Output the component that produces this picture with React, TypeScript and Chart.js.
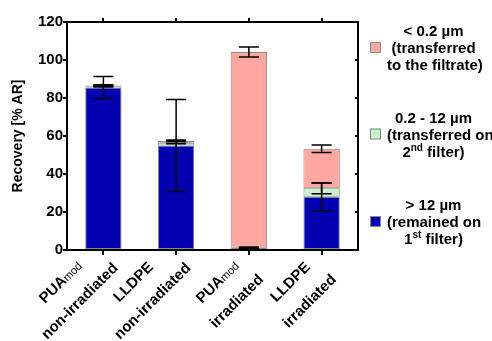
import React, { useEffect, useRef } from 'react';
import { Chart, registerables } from 'chart.js';

Chart.register(...registerables);

// ---- data ----
const categoryLines: string[][] = [
  ['PUA_{mod}', 'non-irradiated'],
  ['LLDPE', 'non-irradiated'],
  ['PUA_{mod}', 'irradiated'],
  ['LLDPE', 'irradiated'],
];
const seriesLabels: string[][] = [
  ['> 12 µm', '(remained on', '1^{st} filter)'],
  ['0.2 - 12 µm', '(transferred on', '2^{nd} filter)'],
  ['< 0.2 µm', '(transferred', 'to the filtrate)'],
];
const above12 = [85.5, 55.0, 1.0, 28.0];
const between = [0.7, 1.5, 0.2, 4.5];
const below02 = [0.4, 1.0, 103.0, 20.8];
const above12Err = [5.8, 24.2, 0.4, 7.3];
const betweenErr = [0.4, 0.6, 0.2, 2.9];
const below02Err = [0.4, 0.4, 2.6, 2.0];
const yTicks = [0, 20, 40, 60, 80, 100, 120];
const yTitle = 'Recovery [% AR]';

const colors = ['#0202B0', '#C8F2C8', '#FFA8A2'];
const FONT = "'Liberation Sans', Arial, Helvetica, sans-serif";

type Seg = { t: string; k: 'n' | 'sup' | 'sub' };
function parseRich(s: string): Seg[] {
  const out: Seg[] = [];
  const re = /(\^|_)\{([^}]*)\}/g;
  let last = 0;
  let m: RegExpExecArray | null;
  while ((m = re.exec(s))) {
    if (m.index > last) out.push({ t: s.slice(last, m.index), k: 'n' });
    out.push({ t: m[2], k: m[1] === '^' ? 'sup' : 'sub' });
    last = re.lastIndex;
  }
  if (last < s.length) out.push({ t: s.slice(last), k: 'n' });
  return out;
}

type RichFonts = { n: string; sup: string; sub: string; supDy: number; subDy: number };

function richWidth(ctx: CanvasRenderingContext2D, s: string, f: RichFonts) {
  let w = 0;
  for (const seg of parseRich(s)) {
    ctx.font = seg.k === 'n' ? f.n : seg.k === 'sup' ? f.sup : f.sub;
    w += ctx.measureText(seg.t).width;
  }
  return w;
}

function drawRich(ctx: CanvasRenderingContext2D, s: string, cx: number, baseY: number, f: RichFonts, minLeft = -Infinity) {
  const w = richWidth(ctx, s, f);
  let x = Math.max(cx - w / 2, minLeft);
  ctx.textAlign = 'left';
  ctx.textBaseline = 'alphabetic';
  for (const seg of parseRich(s)) {
    ctx.font = seg.k === 'n' ? f.n : seg.k === 'sup' ? f.sup : f.sub;
    const dy = seg.k === 'sup' ? f.supDy : seg.k === 'sub' ? f.subDy : 0;
    ctx.fillText(seg.t, x, baseY + dy);
    x += ctx.measureText(seg.t).width;
  }
}

const errors = [above12Err, betweenErr, below02Err];

const decorPlugin = {
  id: 'decor',
  afterDatasetsDraw(chart: any) {
    const ctx: CanvasRenderingContext2D = chart.ctx;
    const xs = chart.scales.x;
    const ys = chart.scales.y;
    ctx.save();
    // error bars
    ctx.strokeStyle = '#000';
    ctx.lineWidth = 1.5;
    const cap = 10;
    chart.data.datasets.forEach((ds: any, i: number) => {
      ds.data.forEach((_: number, j: number) => {
        let cum = 0;
        for (let k = 0; k <= i; k++) cum += chart.data.datasets[k].data[j];
        const e = errors[i][j];
        const x = xs.getPixelForValue(j);
        const yTop = ys.getPixelForValue(cum + e);
        const yBot = ys.getPixelForValue(cum - e);
        ctx.beginPath();
        ctx.moveTo(x, yTop);
        ctx.lineTo(x, yBot);
        ctx.moveTo(x - cap, yTop);
        ctx.lineTo(x + cap, yTop);
        ctx.moveTo(x - cap, yBot);
        ctx.lineTo(x + cap, yBot);
        ctx.stroke();
      });
    });
    ctx.restore();
  },
  afterDraw(chart: any) {
    const ctx: CanvasRenderingContext2D = chart.ctx;
    const xs = chart.scales.x;
    const ys = chart.scales.y;
    const area = chart.chartArea;
    ctx.save();
    ctx.strokeStyle = '#000';
    ctx.lineWidth = 2;
    // top & right frame
    ctx.beginPath();
    ctx.moveTo(area.left, area.top);
    ctx.lineTo(area.right, area.top);
    ctx.lineTo(area.right, area.bottom + 1);
    ctx.stroke();
    // category ticks top & bottom
    for (let j = 0; j < categoryLines.length; j++) {
      const x = Math.round(xs.getPixelForValue(j));
      ctx.beginPath();
      ctx.moveTo(x, area.top);
      ctx.lineTo(x, area.top - 4);
      ctx.moveTo(x, area.bottom);
      ctx.lineTo(x, area.bottom + 5);
      ctx.stroke();
    }
    // right ticks
    for (const v of yTicks) {
      const y = Math.round(ys.getPixelForValue(v));
      ctx.beginPath();
      ctx.moveTo(area.right, y);
      ctx.lineTo(area.right - 3, y);
      ctx.stroke();
    }
    ctx.fillStyle = '#000';
    // x labels, rotated
    const xf: RichFonts = {
      n: `bold 15px ${FONT}`,
      sup: `bold 10px ${FONT}`,
      sub: `11px ${FONT}`,
      supDy: -6,
      subDy: 0,
    };
    const lineGap = 27;
    categoryLines.forEach((lines, j) => {
      const tx = xs.getPixelForValue(j);
      const halfW = Math.max(...lines.map((l) => richWidth(ctx, l, xf))) / 2;
      const halfH = ((lines.length - 1) * lineGap) / 2 + 8;
      const cx = tx + 17 - (halfW + halfH) / Math.SQRT2;
      const cy = area.bottom + 41;
      ctx.save();
      ctx.translate(cx, cy);
      ctx.rotate(-Math.PI / 4);
      lines.forEach((l, k) => {
        const y = (k - (lines.length - 1) / 2) * lineGap;
        drawRich(ctx, l, 0, y + 5.5, xf);
      });
      ctx.restore();
    });
    // legend
    const lf: RichFonts = {
      n: `bold 15px ${FONT}`,
      sup: `bold 10px ${FONT}`,
      sub: `10px ${FONT}`,
      supDy: -6,
      subDy: 2,
    };
    const legendMid = [221.5, 134, 47.5];
    const textCx = 433.5;
    const boxLeft = 370;
    chart.data.datasets.forEach((ds: any, i: number) => {
      const my = legendMid[i];
      ctx.fillStyle = ds.backgroundColor;
      ctx.fillRect(boxLeft, my - 5.5, 11, 11);
      ctx.strokeStyle = '#8a8a8a';
      ctx.lineWidth = 1;
      ctx.strokeRect(boxLeft + 0.5, my - 5, 10, 10);
      ctx.fillStyle = '#000';
      seriesLabels[i].forEach((l, k) => {
        drawRich(ctx, l, textCx, my + (k - 1) * 17 + 5.5, lf, boxLeft + 17);
      });
    });
    ctx.restore();
  },
};

export default function App() {
  const ref = useRef<HTMLCanvasElement | null>(null);
  useEffect(() => {
    document.body.style.margin = '0';
    if (!ref.current) return;
    const chart = new Chart(ref.current, {
      type: 'bar',
      data: {
        labels: categoryLines.map((l) => l.join(' ')),
        datasets: [above12, between, below02].map((d, i) => ({
          label: seriesLabels[i].join(' '),
          data: d,
          backgroundColor: colors[i],
          borderColor: '#8a8a8a',
          borderWidth: 1,
          borderSkipped: false,
          categoryPercentage: 1,
          barPercentage: 0.5,
        })),
      },
      options: {
        responsive: false,
        animation: false,
        layout: { padding: { top: 22, right: 134, left: 0, bottom: 0 } },
        plugins: { legend: { display: false }, tooltip: { enabled: false } },
        scales: {
          x: {
            stacked: true,
            ticks: { display: false },
            grid: { display: false },
            border: { display: true, color: '#000', width: 2 },
            afterFit: (s: any) => {
              s.height = 91;
            },
          },
          y: {
            stacked: true,
            min: 0,
            max: 120,
            afterBuildTicks: (s: any) => {
              s.ticks = yTicks.map((v) => ({ value: v }));
            },
            ticks: {
              color: '#000',
              padding: 0,
              font: { family: FONT, size: 15, weight: 'bold' },
            },
            grid: {
              display: true,
              drawOnChartArea: false,
              drawTicks: true,
              tickLength: 4,
              color: '#000',
              lineWidth: 2,
            },
            border: { display: true, color: '#000', width: 2 },
            title: {
              display: true,
              text: yTitle,
              color: '#000',
              padding: { top: 10, bottom: 0 },
              font: { family: FONT, size: 14, weight: 'bold' },
            },
            afterFit: (s: any) => {
              s.width = 67;
            },
          },
        },
      },
      plugins: [decorPlugin],
    } as any);
    return () => chart.destroy();
  }, []);
  return (
    <div style={{ width: 492, height: 341, background: '#fff' }}>
      <canvas ref={ref} width={492} height={341} style={{ display: 'block' }} />
    </div>
  );
}
